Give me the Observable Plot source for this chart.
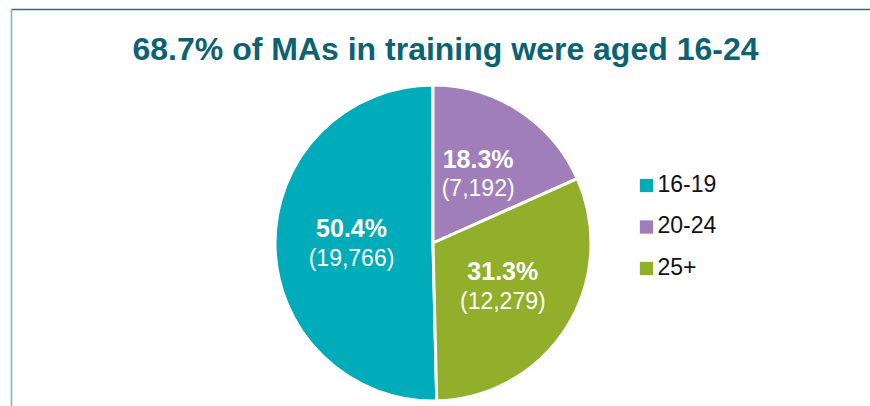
<!DOCTYPE html>
<html>
<head>
<meta charset="utf-8">
<script src="https://cdn.jsdelivr.net/npm/d3@7"></script>
<script src="https://cdn.jsdelivr.net/npm/@observablehq/plot@0.6"></script>
<style>
  html, body { margin: 0; padding: 0; background: #fff; }
  #chart { width: 870px; height: 406px; overflow: hidden; }
</style>
</head>
<body>
<div id="chart"></div>
<script>
// ---- data ----
const categories = ["16-19", "20-24", "25+"];
const counts = [19766, 7192, 12279];
const percents = ["50.4%", "18.3%", "31.3%"];
const countLabels = ["(19,766)", "(7,192)", "(12,279)"];
const colors = ["#00ABBA", "#A07EBA", "#92AF2C"];
const titleText = "68.7% of MAs in training were aged 16-24";

// ---- layout ----
const W = 870, H = 406;
const cx = 433, cy = 243, R = 158, labelR = 82;

const rows = categories.map((c, i) => ({category: c, count: counts[i], pct: percents[i], cnt: countLabels[i]}));
// drawing order clockwise from 12 o'clock: 20-24, 25+, 16-19
const order = ["20-24", "25+", "16-19"];
const pie = d3.pie().sort((a, b) => order.indexOf(a.category) - order.indexOf(b.category)).value(d => d.count);
const arcs = pie(rows);
const labelArc = d3.arc().innerRadius(labelR).outerRadius(labelR);
const labelData = arcs.map(a => {
  const [lx, ly] = labelArc.centroid(a);
  return {...a.data, lx: cx + lx, ly: cy + ly};
});

function pieMark(index, scales, values, dimensions) {
  const arcGen = d3.arc().innerRadius(0).outerRadius(R);
  const g = d3.create("svg:g")
    .attr("transform", `translate(${scales.x(cx)},${scales.y(cy)})`);
  g.selectAll("path").data(arcs).join("path")
    .attr("d", arcGen)
    .attr("fill", d => scales.color(d.data.category))
    .attr("stroke", "#fff")
    .attr("stroke-width", 3)
    .attr("stroke-linejoin", "round");
  return g.node();
}

const legendData = categories.map((c, i) => ({category: c, i}));
const legendX = 646, legendY0 = 185, legendStep = 41.5;

const chart = Plot.plot({
  width: W,
  height: H,
  margin: 0,
  x: {domain: [0, W], range: [0, W], axis: null},
  y: {domain: [0, H], range: [0, H], axis: null},
  color: {domain: categories, range: colors},
  style: {fontFamily: "'Liberation Sans', Arial, sans-serif", background: "#fff"},
  marks: [
    // frame lines
    Plot.ruleY([9], {x1: 11, x2: W, stroke: "#2D6E7E", strokeWidth: 1.5}),
    Plot.ruleX([11], {y1: 9, y2: H, stroke: "#7FAFC0", strokeWidth: 1.5}),
    // title
    Plot.text([titleText], {x: 445, y: 49, text: d => d, fill: "#0B6272", fontSize: 32, fontWeight: "bold", textAnchor: "middle", lineAnchor: "middle"}),
    // pie
    pieMark,
    // slice labels
    Plot.text(labelData, {x: "lx", y: "ly", text: "pct", dy: -15, fill: "#fff", fontSize: 25, fontWeight: "bold", lineAnchor: "middle"}),
    Plot.text(labelData, {x: "lx", y: "ly", text: "cnt", dy: 14, fill: "#fff", fontSize: 23, lineAnchor: "middle"}),
    // legend
    Plot.dot(legendData, {x: legendX, y: d => legendY0 + d.i * legendStep, symbol: "square", r: 7.5, fill: "category", stroke: null}),
    Plot.text(legendData, {x: legendX + 11, y: d => legendY0 - 1 + d.i * legendStep, text: "category", fill: "#111", fontSize: 23, textAnchor: "start", lineAnchor: "middle"})
  ]
});

document.getElementById("chart").appendChild(chart);
</script>
</body>
</html>
